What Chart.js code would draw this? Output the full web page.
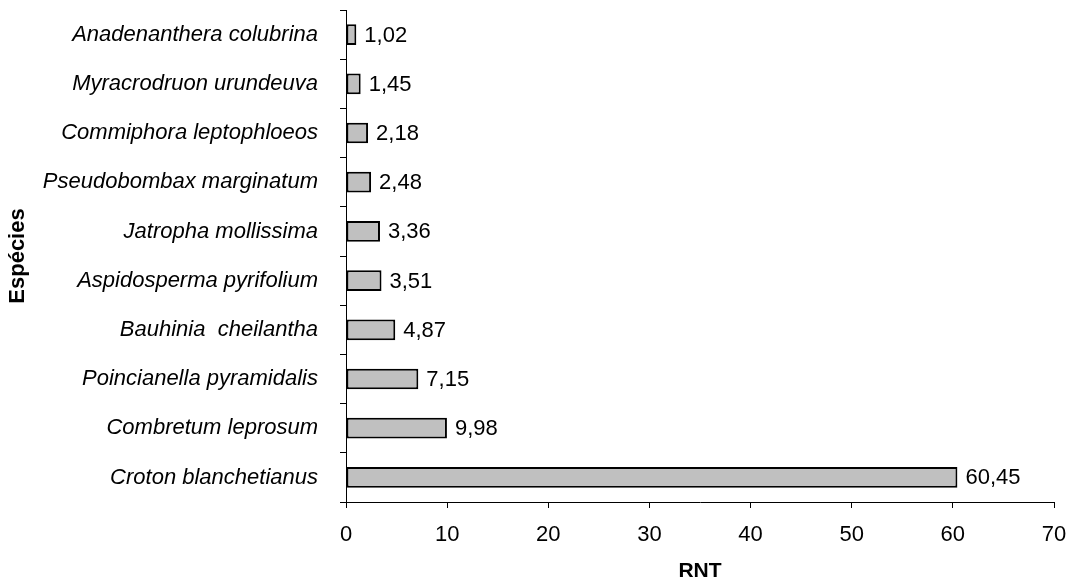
<!DOCTYPE html>
<html>
<head>
<meta charset="utf-8">
<script src="https://cdn.jsdelivr.net/npm/chart.js@4"></script>
<style>
  html, body { margin: 0; padding: 0; background: #fff; }
  #wrap { width: 1071px; height: 582px; }
</style>
</head>
<body>
<div id="wrap"><canvas id="chart" width="1071" height="582"></canvas></div>
<script>
const species = [
  'Anadenanthera colubrina',
  'Myracrodruon urundeuva',
  'Commiphora leptophloeos',
  'Pseudobombax marginatum',
  'Jatropha mollissima',
  'Aspidosperma pyrifolium',
  'Bauhinia  cheilantha',
  'Poincianella pyramidalis',
  'Combretum leprosum',
  'Croton blanchetianus'
];
const rntValues = [1.02, 1.45, 2.18, 2.48, 3.36, 3.51, 4.87, 7.15, 9.98, 60.45];
const xTicks = [0, 10, 20, 30, 40, 50, 60, 70];

const FONT = 'Liberation Sans, Arial, sans-serif';

// Draws the value next to each bar, with a comma decimal separator
const valueLabels = {
  id: 'valueLabels',
  afterDatasetsDraw(chart) {
    const ctx = chart.ctx;
    const meta = chart.getDatasetMeta(0);
    ctx.save();
    ctx.font = '22px ' + FONT;
    ctx.fillStyle = '#000';
    ctx.textBaseline = 'middle';
    ctx.textAlign = 'left';
    meta.data.forEach((bar, i) => {
      const txt = rntValues[i].toFixed(2).replace('.', ',');
      ctx.fillText(txt, bar.x + 8, bar.y + 1);
    });
    ctx.restore();
  }
};

new Chart(document.getElementById('chart').getContext('2d'), {
  type: 'bar',
  data: {
    labels: species,
    datasets: [{
      data: rntValues,
      backgroundColor: '#c0c0c0',
      borderColor: '#000',
      borderWidth: 2,
      borderSkipped: false,
      categoryPercentage: 1,
      barPercentage: 0.42
    }]
  },
  options: {
    indexAxis: 'y',
    responsive: false,
    animation: false,
    layout: { padding: { top: 10, right: 17, left: 0, bottom: 0 } },
    plugins: {
      legend: { display: false },
      tooltip: { enabled: false }
    },
    scales: {
      x: {
        min: 0,
        max: 70,
        afterBuildTicks: scale => { scale.ticks = xTicks.map(v => ({ value: v })); },
        afterFit: scale => {
          scale.height = 80;
          scale.paddingLeft = 0;
          scale.paddingRight = 0;
        },
        border: { display: true, color: '#000', width: 1 },
        grid: { drawOnChartArea: false, drawTicks: true, tickLength: 6, color: '#000' },
        ticks: { color: '#000', font: { family: FONT, size: 22 }, padding: 14, maxRotation: 0 },
        title: { display: true, text: 'RNT', color: '#000', font: { family: FONT, size: 21, weight: 'bold', lineHeight: 1 }, padding: { top: 4, bottom: 0 } }
      },
      y: {
        afterFit: scale => {
          scale.width = 346;
          scale.paddingTop = 0;
          scale.paddingBottom = 0;
        },
        border: { display: true, color: '#000', width: 1 },
        grid: { drawOnChartArea: false, drawTicks: true, tickLength: 6, color: '#000', offset: true },
        ticks: { color: '#000', font: { family: FONT, size: 22, style: 'italic' }, padding: 22 },
        title: { display: true, text: 'Espécies', color: '#000', font: { family: FONT, size: 22, weight: 'bold' }, padding: { top: 5, bottom: 4 } }
      }
    }
  },
  plugins: [valueLabels]
});
</script>
</body>
</html>
